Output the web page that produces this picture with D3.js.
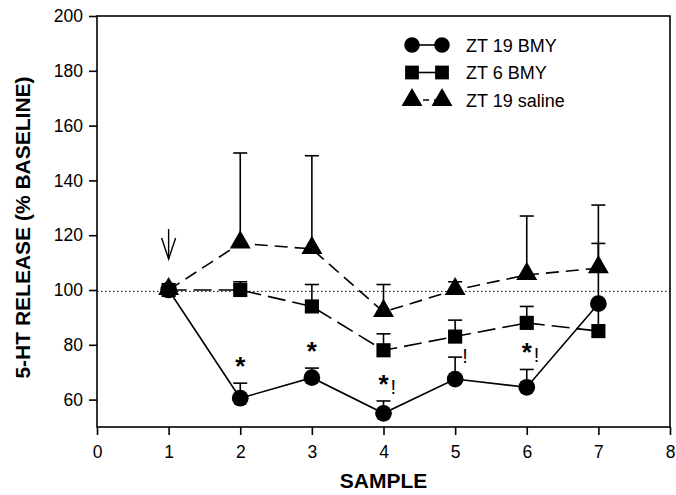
<!DOCTYPE html>
<html><head><meta charset="utf-8">
<script src="https://cdn.jsdelivr.net/npm/d3@7"></script>
<style>body{margin:0;background:#fff}svg{display:block;font-family:"Liberation Sans",Arial,sans-serif}</style>
</head><body>
<svg id="c" width="676" height="495"></svg>
<script>
const samples = [1,2,3,4,5,6,7];
const zt19bmy = [100,60.5,68,55,67.5,64.5,95];
const zt19bmyErr = [0,5.5,3.5,4.5,8,6.5,22];
const zt6bmy = [100,100,94,78,83,88,85];
const zt6bmyErr = [0,3,8,6,6,6,10];
const zt19sal = [100,117,115,92,100,105.5,108];
const zt19salErr = [0,33,34,10,3,21.5,23];
const xTicks = [0,1,2,3,4,5,6,7,8];
const yTicks = [60,80,100,120,140,160,180,200];
const seriesNames = ["ZT 19 BMY","ZT 6 BMY","ZT 19 saline"];
// significance marks: [sample, label]
const marks = [[2,"*",""],[3,"*",""],[4,"*","!"],[5,"","!"],[6,"*","!"]];

const svg = d3.select("#c");
const L=97,R=670,T=16,B=427;
const x = d3.scaleLinear().domain([0,8]).range([L,R]);
const y = d3.scaleLinear().domain([50,200]).range([B,T]);
const SW=1.6;

// frame
svg.append("rect").attr("x",L).attr("y",T).attr("width",R-L).attr("height",B-T)
  .attr("fill","none").attr("stroke","#000").attr("stroke-width",SW);

// axes
const xa = svg.append("g").attr("transform",`translate(0,${B})`)
  .call(d3.axisBottom(x).tickValues(xTicks).tickFormat(d3.format("d")).tickSize(8).tickPadding(11));
const ya = svg.append("g").attr("transform",`translate(${L},0)`)
  .call(d3.axisLeft(y).tickValues(yTicks).tickFormat(d3.format("d")).tickSize(8).tickPadding(6));
[xa,ya].forEach(a=>{a.select(".domain").remove();a.selectAll("line").attr("stroke","#000").attr("stroke-width",SW);
  a.selectAll("text").attr("font-size",17.5).attr("fill","#000").attr("font-family","'Liberation Sans',Arial,sans-serif");});

svg.append("text").attr("x",(L+R)/2).attr("y",488).attr("text-anchor","middle")
  .attr("font-size",21).attr("font-weight","bold").text("SAMPLE");
svg.append("text").attr("transform",`translate(30,${(T+B)/2+6}) rotate(-90)`).attr("text-anchor","middle")
  .attr("font-size",21).attr("font-weight","bold").text("5-HT RELEASE (% BASELINE)");

// dotted baseline
svg.append("line").attr("x1",L).attr("x2",R).attr("y1",y(99.5)).attr("y2",y(99.5))
  .attr("stroke","#000").attr("stroke-width",1).attr("stroke-dasharray","1.5,2.5");

// arrow
const ax=x(1);
svg.append("line").attr("x1",ax).attr("x2",ax).attr("y1",229).attr("y2",259).attr("stroke","#000").attr("stroke-width",1.4);
svg.append("path").attr("d",`M${ax-7},${238} L${ax},${259} L${ax+7},${238}`).attr("fill","none").attr("stroke","#000").attr("stroke-width",1.4);

const series = [
  {v:zt19sal,e:zt19salErr,dash:"13,7",sym:d3.symbolTriangle,size:190},
  {v:zt6bmy,e:zt6bmyErr,dash:"18,7",sym:d3.symbolSquare,size:200},
  {v:zt19bmy,e:zt19bmyErr,dash:null,sym:d3.symbolCircle,size:220}
];
// error bars
series.forEach(s=>{
  samples.forEach((d,i)=>{
    if(!s.e[i]) return;
    const xx=x(d),y0=y(s.v[i]),y1=y(s.v[i]+s.e[i]);
    svg.append("line").attr("x1",xx).attr("x2",xx).attr("y1",y0).attr("y2",y1).attr("stroke","#000").attr("stroke-width",SW);
    svg.append("line").attr("x1",xx-7).attr("x2",xx+7).attr("y1",y1).attr("y2",y1).attr("stroke","#000").attr("stroke-width",SW);
  });
});
// lines
const line = d3.line().x((d,i)=>x(samples[i])).y(d=>y(d));
series.forEach(s=>{
  svg.append("path").attr("d",line(s.v)).attr("fill","none").attr("stroke","#000").attr("stroke-width",SW)
    .attr("stroke-dasharray",s.dash);
});
series.forEach(s=>{
  samples.forEach((d,i)=>{
    svg.append("path").attr("d",d3.symbol().type(s.sym).size(s.size)())
      .attr("transform",`translate(${x(d)},${y(s.v[i])+(s.sym===d3.symbolTriangle?-1:0)})`).attr("fill","#000");
  });
});

// significance marks
marks.forEach(([smp,a,b])=>{
  const i=samples.indexOf(smp);
  const top=y(zt19bmy[i]+zt19bmyErr[i]);
  if(a) svg.append("text").attr("x",x(smp)).attr("y",top-8).attr("text-anchor","middle").attr("font-size",26).attr("font-weight","bold").text(a);
  if(b) svg.append("text").attr("x",x(smp)+7).attr("y",a?top-7:top+6).attr("font-size",20).text(b);
});

// legend
const lg = [{sym:d3.symbolCircle,dash:null},{sym:d3.symbolSquare,dash:null},{sym:d3.symbolTriangle,dash:"6,5"}];
lg.forEach((l,i)=>{
  const yy=45+i*27.5;
  svg.append("line").attr("x1",412).attr("x2",442).attr("y1",yy).attr("y2",yy).attr("stroke","#000").attr("stroke-width",SW).attr("stroke-dasharray",l.dash);
  [412,442].forEach(xx=>svg.append("path").attr("d",d3.symbol().type(l.sym).size(190)()).attr("transform",`translate(${xx},${yy})`).attr("fill","#000"));
  svg.append("text").attr("x",466).attr("y",yy+6.5).attr("font-size",18).text(seriesNames[i]);
});
</script>
</body></html>
